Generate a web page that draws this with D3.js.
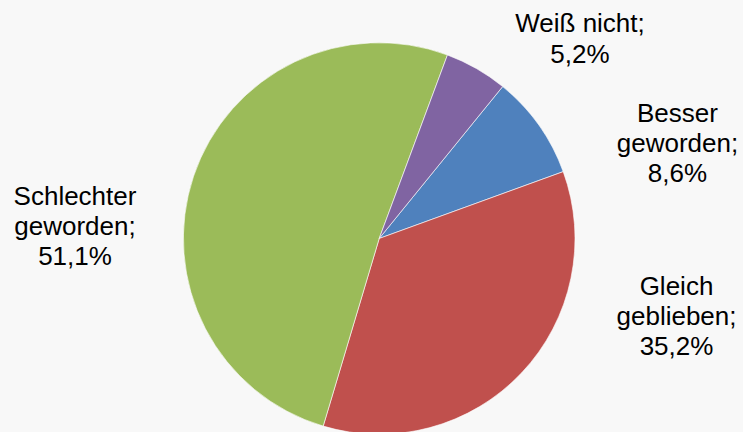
<!DOCTYPE html>
<html><head><meta charset="utf-8">
<script src="https://cdn.jsdelivr.net/npm/d3@7"></script>
<style>html,body{margin:0;padding:0;background:#f8f8f8;}svg{display:block;}</style>
</head><body>
<svg id="c" width="743" height="432"></svg>
<script>
const categories = ["Besser geworden", "Gleich geblieben", "Schlechter geworden", "Weiß nicht"];
const values = [8.6, 35.2, 51.1, 5.2];
const valueLabels = ["8,6%", "35,2%", "51,1%", "5,2%"];
const labelLines = [["Besser", "geworden;"], ["Gleich", "geblieben;"], ["Schlechter", "geworden;"], ["Weiß nicht;"]];
const colors = ["#4F81BD", "#C0504D", "#9BBB59", "#8064A2"];

const svg = d3.select("#c");
svg.append("rect").attr("width", 743).attr("height", 432).attr("fill", "#f8f8f8");
const cx = 379.2, cy = 238.5, r = 195.8;
const start = 39.1 * Math.PI / 180;
const pie = d3.pie().sort(null).startAngle(start).endAngle(start + 2 * Math.PI);
const arcs = pie(values);
const arc = d3.arc().innerRadius(0).outerRadius(r);
const color = d3.scaleOrdinal().domain(categories).range(colors);
const g = svg.append("g").attr("transform", `translate(${cx},${cy})`);
g.selectAll("path").data(arcs).join("path")
  .attr("d", arc)
  .attr("fill", (d, i) => color(categories[i]))
  .attr("stroke", "#ffffff").attr("stroke-width", 0.6);

// label anchor positions (center x, first baseline y) for each category
const labelPos = [[677.5, 121.7], [676.5, 295], [75, 205], [580, 32.3]];
const lh = 30.2;
const lg = svg.append("g").attr("font-family", "Liberation Sans, Arial, sans-serif")
  .attr("font-size", 26).attr("fill", "#000").attr("text-anchor", "middle");
categories.forEach((c, i) => {
  const lines = labelLines[i].concat([valueLabels[i]]);
  const t = lg.append("text");
  lines.forEach((ln, j) => {
    t.append("tspan").attr("x", labelPos[i][0]).attr("y", labelPos[i][1] + j * lh).text(ln);
  });
});
</script>
</body></html>
